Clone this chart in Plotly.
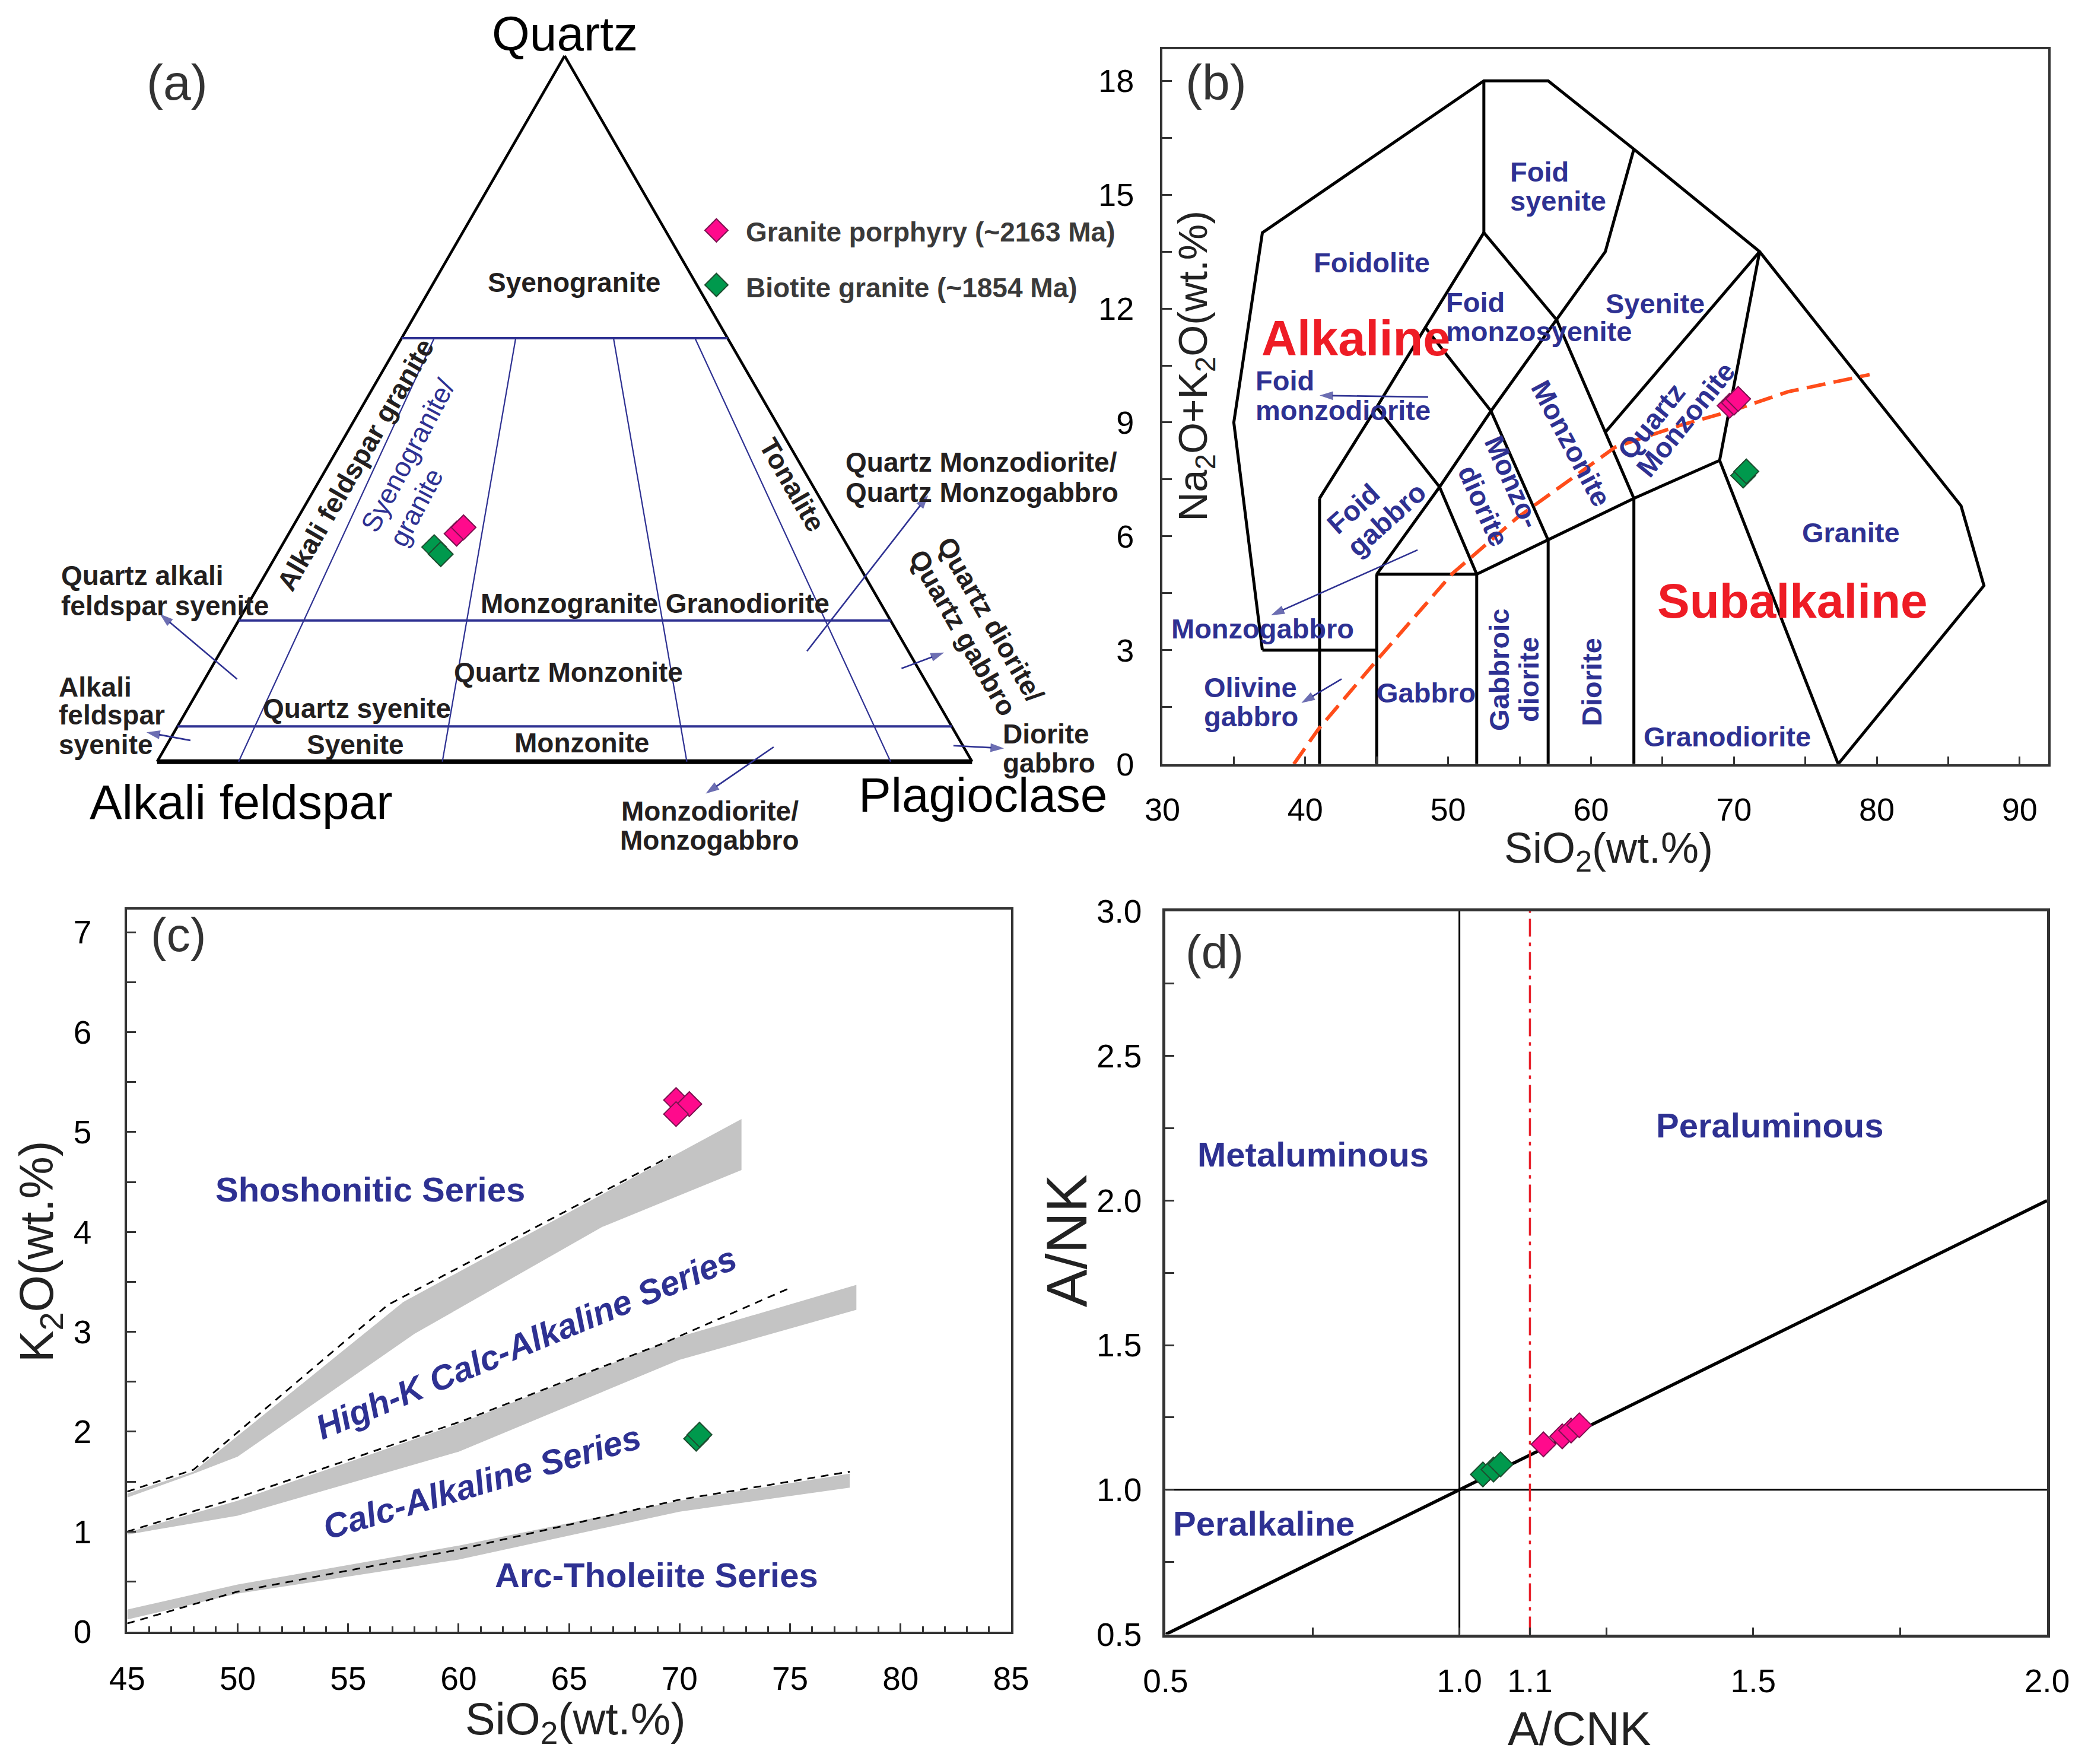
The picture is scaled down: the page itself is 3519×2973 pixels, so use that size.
import math
import plotly.graph_objects as go

W, H = 3519, 2973          # target picture size
OFF = 8                    # page body margin of the html page
FIG_W, FIG_H = W - 2 * OFF, H - 2 * OFF
SC = W / 1568.0            # overview-pixel -> full-pixel

FONT = "Liberation Sans, Arial, sans-serif"
BLUE = "#2e3192"
INK = "#231f20"
RED = "#ee1c25"
AXC = "#333333"
PINK, PINK_EDGE = "#ff0a8c", "#7d1150"
GREEN, GREEN_EDGE = "#00994d", "#1d4d2f"

# ---------------- (a) QAP ternary data ----------------
qap_q_levels = [60, 20, 5]
qap_ratio_lines = [10, 35, 65, 90]
qap_ratio_top_q = 60
gp_Q = [32.3, 33.2]
gp_A = [47.1, 45.8]
gp_P = [20.6, 21.0]
bg_Q = [30.4, 29.4]
bg_A = [50.8, 50.5]
bg_P = [18.8, 20.1]
legend_names = ["Granite porphyry (~2163 Ma)", "Biotite granite (~1854 Ma)"]
# label pointer arrows of (a), in the diagram's cartesian units: (tail x, tail y, head x, head y)
a_arrows = [
    (9.81, 10.13, 0.33, 18.13),
    (4.09, 2.61, -1.31, 3.60),
    (79.74, 13.56, 94.61, 32.68),
    (91.34, 11.44, 96.57, 13.40),
    (97.71, 1.96, 103.92, 1.63),
    (75.65, 1.80, 67.32, -3.92),
]

# ---------------- (b) TAS data ----------------
tas_outline_sio2 = [37, 35, 37, 52.5, 57, 63, 71.8, 85.9, 87.5, 77.3]
tas_outline_alk = [3, 9, 14, 18, 18, 16.2, 13.5, 6.8, 4.7, 0]
tas_inner = [
    ([41, 41], [0, 7]),
    ([37, 45], [3, 3]),
    ([45, 45], [0, 5]),
    ([45, 52], [5, 5]),
    ([52, 52], [0, 5]),
    ([57, 57], [0, 5.9]),
    ([63, 63], [0, 7]),
    ([52, 57, 63, 69], [5, 5.9, 7, 8]),
    ([69, 77.3], [8, 0]),
    ([69, 71.8], [8, 13.5]),
    ([41, 45, 48.4, 52.5], [7, 9.4, 11.5, 14]),
    ([52.5, 52.5], [14, 18]),
    ([45, 49.4, 53, 57.6, 61, 63], [5, 7.3, 9.3, 11.7, 13.5, 16.2]),
    ([52.5, 57.6, 63], [14, 11.7, 7]),
    ([48.4, 53, 57], [11.5, 9.3, 5.9]),
    ([45, 49.4, 52], [9.4, 7.3, 5]),
    ([71.8, 61.04], [13.5, 8.76]),
]
ib_sio2 = [39.2, 40.9, 45.0, 50.3, 54.8, 61.7, 66.2, 69.8, 73.8, 79.5]
ib_alk = [0, 0.91, 2.73, 5.02, 6.48, 8.35, 8.92, 9.3, 9.81, 10.26]
tas_gp_sio2 = [69.7, 70.0, 70.3]
tas_gp_alk = [9.44, 9.52, 9.62]
tas_bg_sio2 = [70.65, 70.87]
tas_bg_alk = [7.6, 7.71]
# label pointer arrows of (b): (tail SiO2, tail alk, head SiO2, head alk)
b_arrows = [
    (48.6, 9.67, 41.0, 9.71),
    (47.86, 5.64, 37.6, 3.92),
    (42.54, 2.24, 39.73, 1.61),
]

# ---------------- (c) K2O-SiO2 data ----------------
band_sho_up_x = [45, 48, 57.5, 72.8]
band_sho_up_y = [1.38, 1.60, 3.30, 5.13]
band_sho_lo_x = [72.8, 66.5, 58, 50, 48, 45]
band_sho_lo_y = [4.62, 4.05, 2.98, 1.75, 1.58, 1.34]
dash_sho_x = [45, 48, 56.8, 69.6]
dash_sho_y = [1.40, 1.62, 3.27, 4.76]
band_hk_up_x = [45, 50, 60, 70, 78]
band_hk_up_y = [0.99, 1.31, 2.08, 2.95, 3.47]
band_hk_lo_x = [78, 70, 60, 50, 45]
band_hk_lo_y = [3.22, 2.72, 1.80, 1.16, 0.97]
dash_hk_x = [45, 50, 60.2, 69.2, 75]
dash_hk_y = [1.0, 1.34, 2.11, 2.88, 3.44]
band_th_up_x = [45, 50, 60, 70, 77.7]
band_th_up_y = [0.22, 0.47, 0.86, 1.31, 1.58]
band_th_lo_x = [77.7, 70, 60, 50, 45]
band_th_lo_y = [1.44, 1.20, 0.72, 0.38, 0.12]
dash_th_x = [45, 50, 60, 70, 77.7]
dash_th_y = [0.08, 0.40, 0.82, 1.32, 1.60]
k_gp_sio2 = [69.84, 70.44, 69.84]
k_gp_k2o = [5.32, 5.28, 5.18]
k_bg_sio2 = [70.75, 70.9]
k_bg_k2o = [1.93, 1.97]

# ---------------- (d) A/NK - A/CNK data ----------------
d_diag_x = [0.5, 2.0]
d_diag_y = [0.5, 2.0]
d_vline_x = [1.0, 1.0]
d_vline_y = [0.5, 3.0]
d_hline_x = [0.5, 2.0]
d_hline_y = [1.0, 1.0]
d_red_x = [1.12, 1.12]
d_red_y = [0.5, 3.0]
d_x_tickvals = [0.5, 1.0, 1.12, 1.5, 2.0]
d_x_ticktext = ["0.5", "1.0", "1.1", "1.5", "2.0"]
d_gp_acnk = [1.143, 1.175, 1.19, 1.204]
d_gp_ank = [1.157, 1.185, 1.205, 1.223]
d_bg_acnk = [1.04, 1.058, 1.07]
d_bg_ank = [1.053, 1.07, 1.088]

# ---------------- layout geometry (picture pixels) ----------------
A_BASE_L, A_BASE_R, A_BASE_Y = 264.8, 1638.3, 1283.7
A_UNIT = (A_BASE_R - A_BASE_L) / 100.0
A_BOX = (OFF, 1900, OFF, 1450)
B_BOX = (1959, 3452, 82.5, 1287.7)
C_BOX = (214.3, 1704, 1532.5, 2749.7)
D_BOX = (1964.4, 3450, 1535.9, 2754.6)


def fx(p):
    return (p - OFF) / FIG_W


def fy(p):
    return 1 - (p - OFF) / FIG_H


def dom_x(b):
    return [fx(b[0]), fx(b[1])]


def dom_y(b):
    return [fy(b[3]), fy(b[2])]


def PX(xs):
    return fx(xs * SC)


def PY(ys):
    return fy(ys * SC)


def tern(Q, A, P):
    xs, ys = [], []
    for q, a, p in zip(Q, A, P):
        s = q + a + p
        q, p = 100.0 * q / s, 100.0 * p / s
        xs.append(p + q / 2.0)
        ys.append(q * math.sqrt(3) / 2.0)
    return xs, ys


def ref_to_a(xs, ys):
    return (xs * SC - A_BASE_L) / A_UNIT, (A_BASE_Y - ys * SC) / A_UNIT


fig = go.Figure()


def arrow_trace(xt, yt, xh, yh, xa, ya):
    return go.Scatter(x=[xt, xh], y=[yt, yh], mode="lines+markers",
                      line=dict(color=BLUE, width=2.6),
                      marker=dict(symbol="arrow", size=[0, 24], angleref="previous", color=BLUE,
                                  line=dict(width=0)),
                      xaxis=xa, yaxis=ya, hoverinfo="skip", cliponaxis=False)


# ---------- (a) ----------
tx, ty = tern([100, 0, 0, 100], [0, 100, 0, 0], [0, 0, 100, 0])
fig.add_trace(go.Scatter(x=tx[:2] + [None] + tx[2:], y=ty[:2] + [None] + ty[2:], mode="lines",
                         line=dict(color="black", width=4.5), xaxis="x", yaxis="y", hoverinfo="skip"))
bx, by = tern([0, 0], [100, 0], [0, 100])
fig.add_trace(go.Scatter(x=bx, y=by, mode="lines", line=dict(color="black", width=8),
                         xaxis="x", yaxis="y", hoverinfo="skip"))
for q in qap_q_levels:
    lx, ly = tern([q, q], [100 - q, 0], [0, 100 - q])
    fig.add_trace(go.Scatter(x=lx, y=ly, mode="lines", line=dict(color=BLUE, width=4),
                             xaxis="x", yaxis="y", hoverinfo="skip"))
for r in qap_ratio_lines:
    qt = qap_ratio_top_q
    lx, ly = tern([qt, 0], [(100 - qt) * (1 - r / 100.0), 100 - r], [(100 - qt) * r / 100.0, r])
    fig.add_trace(go.Scatter(x=lx, y=ly, mode="lines", line=dict(color=BLUE, width=2.2),
                             xaxis="x", yaxis="y", hoverinfo="skip"))
for xt, yt, xh, yh in a_arrows:
    fig.add_trace(arrow_trace(xt, yt, xh, yh, "x", "y"))

mk_gp = dict(symbol="diamond", size=32, color=PINK, line=dict(color=PINK_EDGE, width=2))
mk_bg = dict(symbol="diamond", size=32, color=GREEN, line=dict(color=GREEN_EDGE, width=2))
gx, gy = tern(bg_Q, bg_A, bg_P)
fig.add_trace(go.Scatter(x=gx, y=gy, mode="markers", marker=mk_bg, xaxis="x", yaxis="y"))
px_, py_ = tern(gp_Q, gp_A, gp_P)
fig.add_trace(go.Scatter(x=px_, y=py_, mode="markers", marker=mk_gp, xaxis="x", yaxis="y"))

# custom legend markers (legend placement)
l1 = ref_to_a(538, 173)
l2 = ref_to_a(538, 214)
fig.add_trace(go.Scatter(x=[l1[0]], y=[l1[1]], mode="markers", marker=dict(mk_gp, size=30),
                         xaxis="x", yaxis="y"))
fig.add_trace(go.Scatter(x=[l2[0]], y=[l2[1]], mode="markers", marker=dict(mk_bg, size=30),
                         xaxis="x", yaxis="y"))

# ---------- (b) ----------
fig.add_trace(go.Scatter(x=tas_outline_sio2, y=tas_outline_alk, mode="lines",
                         line=dict(color="black", width=5), xaxis="x2", yaxis="y2"))
for sx, sy in tas_inner:
    fig.add_trace(go.Scatter(x=sx, y=sy, mode="lines", line=dict(color="black", width=5),
                             xaxis="x2", yaxis="y2"))
fig.add_trace(go.Scatter(x=ib_sio2, y=ib_alk, mode="lines",
                         line=dict(color="#ff4d1a", width=6, dash="32px,14px"), xaxis="x2", yaxis="y2"))
for xt, yt, xh, yh in b_arrows:
    fig.add_trace(arrow_trace(xt, yt, xh, yh, "x2", "y2"))
fig.add_trace(go.Scatter(x=tas_bg_sio2, y=tas_bg_alk, mode="markers", marker=mk_bg, xaxis="x2", yaxis="y2"))
fig.add_trace(go.Scatter(x=tas_gp_sio2, y=tas_gp_alk, mode="markers", marker=mk_gp, xaxis="x2", yaxis="y2"))

# ---------- (c) ----------
for ux, uy, lx, ly in [(band_sho_up_x, band_sho_up_y, band_sho_lo_x, band_sho_lo_y),
                       (band_hk_up_x, band_hk_up_y, band_hk_lo_x, band_hk_lo_y),
                       (band_th_up_x, band_th_up_y, band_th_lo_x, band_th_lo_y)]:
    fig.add_trace(go.Scatter(x=ux + lx, y=uy + ly, mode="lines", fill="toself", fillcolor="#c4c4c4",
                             line=dict(width=0, color="#c4c4c4"), xaxis="x3", yaxis="y3"))
for dx, dy in [(dash_sho_x, dash_sho_y), (dash_hk_x, dash_hk_y), (dash_th_x, dash_th_y)]:
    fig.add_trace(go.Scatter(x=dx, y=dy, mode="lines", line=dict(color="black", width=2.8, dash="13px,10px"),
                             xaxis="x3", yaxis="y3"))
fig.add_trace(go.Scatter(x=k_bg_sio2, y=k_bg_k2o, mode="markers", marker=mk_bg, xaxis="x3", yaxis="y3"))
fig.add_trace(go.Scatter(x=k_gp_sio2, y=k_gp_k2o, mode="markers", marker=mk_gp, xaxis="x3", yaxis="y3"))

# ---------- (d) ----------
fig.add_trace(go.Scatter(x=d_vline_x, y=d_vline_y, mode="lines", line=dict(color="black", width=3),
                         xaxis="x4", yaxis="y4"))
fig.add_trace(go.Scatter(x=d_hline_x, y=d_hline_y, mode="lines", line=dict(color="black", width=3),
                         xaxis="x4", yaxis="y4"))
fig.add_trace(go.Scatter(x=d_diag_x, y=d_diag_y, mode="lines", line=dict(color="black", width=5.5),
                         xaxis="x4", yaxis="y4"))
fig.add_trace(go.Scatter(x=d_red_x, y=d_red_y, mode="lines",
                         line=dict(color="#e8202a", width=3.5, dash="30px,10px,6px,10px"),
                         xaxis="x4", yaxis="y4"))
fig.add_trace(go.Scatter(x=d_bg_acnk, y=d_bg_ank, mode="markers", marker=mk_bg, xaxis="x4", yaxis="y4"))
fig.add_trace(go.Scatter(x=d_gp_acnk, y=d_gp_ank, mode="markers", marker=mk_gp, xaxis="x4", yaxis="y4"))

# ---------- axes ----------
tickfont_b = dict(family=FONT, size=54, color="black")
tickfont_cd = dict(family=FONT, size=55, color="black")


def frame(lw):
    return dict(showline=True, mirror=True, linecolor=AXC, linewidth=lw, showgrid=False, zeroline=False,
                ticks="inside", tickcolor=AXC, automargin=False)


a_xr = [(A_BOX[0] - A_BASE_L) / A_UNIT, (A_BOX[1] - A_BASE_L) / A_UNIT]
a_yr = [(A_BASE_Y - A_BOX[3]) / A_UNIT, (A_BASE_Y - A_BOX[2]) / A_UNIT]

fig.update_layout(
    width=FIG_W, height=FIG_H, autosize=False,
    margin=dict(l=0, r=0, t=0, b=0, pad=0, autoexpand=False),
    paper_bgcolor="white", plot_bgcolor="rgba(0,0,0,0)", showlegend=False,
    xaxis=dict(domain=dom_x(A_BOX), range=a_xr, visible=False),
    yaxis=dict(domain=dom_y(A_BOX), range=a_yr, visible=False),
    xaxis2=dict(frame(4), domain=dom_x(B_BOX), range=[30, 92], anchor="y2", tickmode="linear", tick0=30, dtick=10,
                ticklen=13, tickwidth=3, tickfont=tickfont_b, ticklabelstandoff=26,
                minor=dict(ticks="inside", dtick=5, tick0=30, ticklen=13, tickwidth=3, tickcolor=AXC)),
    yaxis2=dict(frame(4), domain=dom_y(B_BOX), range=[0, 18.84], anchor="x2", tickmode="linear", tick0=0, dtick=3,
                ticklen=16, tickwidth=3, tickfont=tickfont_b, ticklabelstandoff=33,
                minor=dict(ticks="inside", dtick=1.5, tick0=0, ticklen=16, tickwidth=3, tickcolor=AXC)),
    xaxis3=dict(frame(4), domain=dom_x(C_BOX), range=[45, 85], anchor="y3", tickmode="linear", tick0=45, dtick=5,
                ticklen=14, tickwidth=3, tickfont=tickfont_cd, ticklabelstandoff=28,
                minor=dict(ticks="inside", dtick=1, tick0=45, ticklen=9, tickwidth=3, tickcolor=AXC)),
    yaxis3=dict(frame(4), domain=dom_y(C_BOX), range=[0, 7.23], anchor="x3", tickmode="linear", tick0=0, dtick=1,
                ticklen=15, tickwidth=3, tickfont=tickfont_cd, ticklabelstandoff=45,
                minor=dict(ticks="inside", dtick=0.5, tick0=0, ticklen=15, tickwidth=3, tickcolor=AXC)),
    xaxis4=dict(frame(5), domain=dom_x(D_BOX), range=[0.5, 2.0], anchor="y4", tickmode="array",
                tickvals=d_x_tickvals, ticktext=d_x_ticktext, ticklen=12, tickwidth=3, tickfont=tickfont_cd,
                ticklabelstandoff=26,
                minor=dict(ticks="inside", dtick=0.25, tick0=0.5, ticklen=12, tickwidth=3, tickcolor=AXC)),
    yaxis4=dict(frame(5), domain=dom_y(D_BOX), range=[0.5, 3.0], anchor="x4", tickmode="linear", tick0=0.5,
                dtick=0.5, tickformat=".1f", ticklen=15, tickwidth=3, tickfont=tickfont_cd, ticklabelstandoff=24,
                minor=dict(ticks="inside", dtick=0.25, tick0=0.5, ticklen=15, tickwidth=3, tickcolor=AXC)),
)

# ---------- annotations (text labels) ----------
anns = []


def T(text, xs, ys, size, color=INK, bold=False, italic=False, angle=0, xanchor="center"):
    t = text
    if bold:
        t = "<b>" + t + "</b>"
    if italic:
        t = "<i>" + t + "</i>"
    anns.append(dict(text=t, x=PX(xs), y=PY(ys), xref="paper", yref="paper", showarrow=False,
                     font=dict(family=FONT, size=size, color=color), textangle=angle,
                     xanchor=xanchor, yanchor="middle"))


LB = 46   # black label size in (a)
# (a)
T("(a)", 133, 62, 84, color="#333")
T("Quartz", 424, 25, 82, color="black")
T("Alkali feldspar", 181, 602, 82, color="black")
T("Plagioclase", 738, 597, 82, color="black")
T("Syenogranite", 431, 212, LB, bold=True)
T(legend_names[0], 559, 174, 46, bold=True, xanchor="left", color="#3a3a3a")
T(legend_names[1], 559, 216, 46, bold=True, xanchor="left", color="#3a3a3a")
T("Alkali feldspar granite", 267, 349, LB, bold=True, angle=-60)
T("Syenogranite/", 306, 342, 46, color=BLUE, angle=-62)
T("granite", 312.5, 381, 46, color=BLUE, angle=-62)
T("Tonalite", 595, 364, LB, bold=True, angle=60)
T("Quartz Monzodiorite/", 634, 347, LB, bold=True, xanchor="left")
T("Quartz Monzogabbro", 634, 370, LB, bold=True, xanchor="left")
T("Quartz alkali", 45, 432, LB, bold=True, xanchor="left")
T("feldspar syenite", 45, 455, LB, bold=True, xanchor="left")
T("Monzogranite Granodiorite", 492, 453, LB, bold=True)
T("Quartz Monzonite", 427, 505, LB, bold=True)
T("Quartz syenite", 268, 532, LB, bold=True)
T("Syenite", 267, 559, LB, bold=True)
T("Monzonite", 437, 558, LB, bold=True)
T("Alkali", 43, 516, LB, bold=True, xanchor="left")
T("feldspar", 43, 537, LB, bold=True, xanchor="left")
T("syenite", 43, 559, LB, bold=True, xanchor="left")
T("Quartz diorite/", 744, 465, LB, bold=True, angle=60)
T("Quartz gabbro", 723, 475, LB, bold=True, angle=60)
T("Diorite", 752, 551, LB, bold=True, xanchor="left")
T("gabbro", 752, 573, LB, bold=True, xanchor="left")
T("Monzodiorite/", 533, 609, LB, bold=True)
T("Monzogabbro", 533, 631, LB, bold=True)

# (b)
BB = 47
T("(b)", 913, 62, 84, color="#333")
T("Foid", 1133, 129, BB, color=BLUE, bold=True, xanchor="left")
T("syenite", 1133, 151, BB, color=BLUE, bold=True, xanchor="left")
T("Foidolite", 1030, 197, BB, color=BLUE, bold=True)
T("Foid", 1085, 227, BB, color=BLUE, bold=True, xanchor="left")
T("monzosyenite", 1085, 249, BB, color=BLUE, bold=True, xanchor="left")
T("Syenite", 1243, 228, BB, color=BLUE, bold=True)
T("Alkaline", 1018, 254, 83, color=RED, bold=True)
T("Foid", 942, 286, BB, color=BLUE, bold=True, xanchor="left")
T("monzodiorite", 942, 308, BB, color=BLUE, bold=True, xanchor="left")
T("Monzonite", 1180, 333, BB, color=BLUE, bold=True, angle=62)
T("Monzo-", 1136, 362, BB, color=BLUE, bold=True, angle=66)
T("diorite", 1114, 380, BB, color=BLUE, bold=True, angle=66)
T("Foid", 1016, 382, BB, color=BLUE, bold=True, angle=-42)
T("gabbro", 1041, 390, BB, color=BLUE, bold=True, angle=-42)
T("Monzogabbro", 948, 472, BB, color=BLUE, bold=True)
T("Olivine", 903, 516, BB, color=BLUE, bold=True, xanchor="left")
T("gabbro", 903, 538, BB, color=BLUE, bold=True, xanchor="left")
T("Gabbro", 1071, 520, BB, color=BLUE, bold=True)
T("Gabbroic", 1126, 503, BB, color=BLUE, bold=True, angle=-90)
T("diorite", 1148, 510, BB, color=BLUE, bold=True, angle=-90)
T("Diorite", 1195, 512, BB, color=BLUE, bold=True, angle=-90)
T("Quartz", 1240, 316, BB, color=BLUE, bold=True, angle=-51)
T("Monzonite", 1266, 315, BB, color=BLUE, bold=True, angle=-51)
T("Granite", 1390, 400, BB, color=BLUE, bold=True)
T("Subalkaline", 1346, 451, 82, color=RED, bold=True)
T("Granodiorite", 1297, 553, BB, color=BLUE, bold=True)
T("SiO<sub>2</sub>(wt.%)", 1208, 639, 72, color="#222")
T("Na<sub>2</sub>O+K<sub>2</sub>O(wt.%)", 898, 275, 68, color="#222", angle=-90)

# (c)
CB = 58
T("(c)", 134, 702, 80, color="#333")
T("Shoshonitic Series", 278, 893, CB, color=BLUE, bold=True)
T("High-K Calc-Alkaline Series", 395, 1008, CB, color=BLUE, bold=True, italic=True, angle=-22.5)
T("Calc-Alkaline Series", 362, 1113, CB, color=BLUE, bold=True, italic=True, angle=-16.3)
T("Arc-Tholeiite Series", 493, 1183, CB, color=BLUE, bold=True)
T("K<sub>2</sub>O(wt.%)", 30, 940, 80, color="#222", angle=-90)
T("SiO<sub>2</sub>(wt.%)", 432, 1293, 76, color="#222")

# (d)
T("(d)", 912, 715, 80, color="#333")
T("Metaluminous", 986, 867, 58, color=BLUE, bold=True)
T("Peraluminous", 1329, 845, 58, color=BLUE, bold=True)
T("Peralkaline", 949, 1144, 58, color=BLUE, bold=True)
T("A/NK", 801, 932, 96, color="#222", angle=-90)
T("A/CNK", 1186, 1298, 79, color="#222")

fig.update_layout(annotations=anns)
fig.write_html("out.html")
